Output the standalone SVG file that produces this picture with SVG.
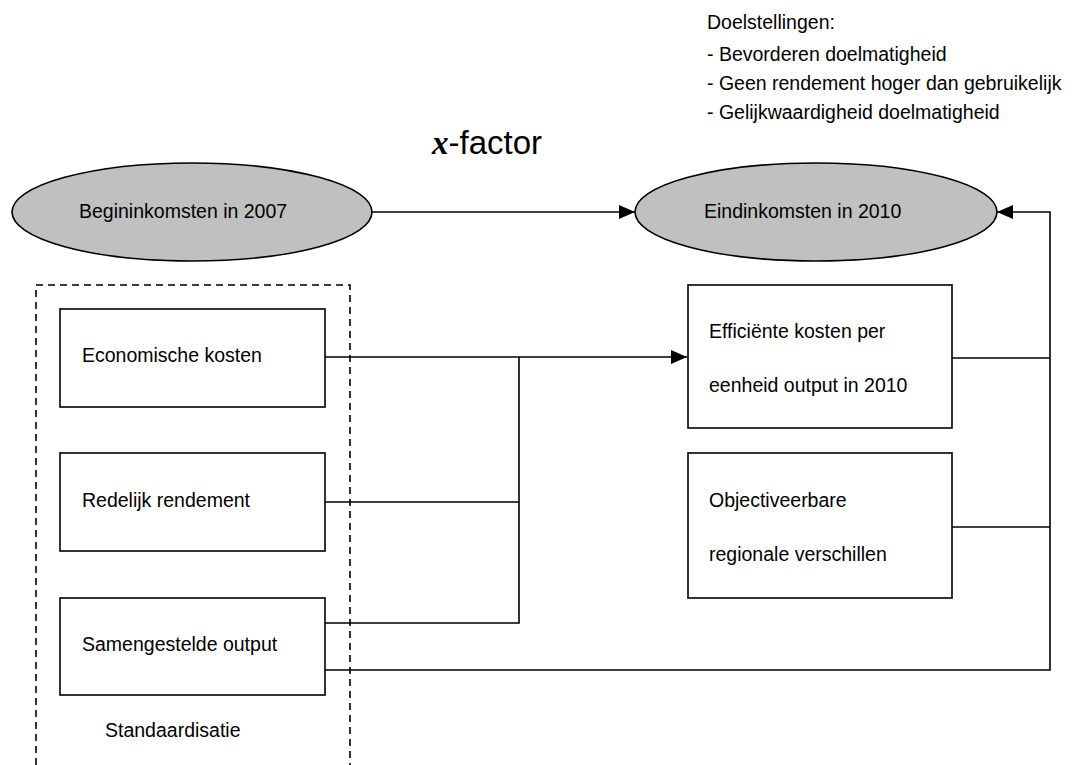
<svg xmlns="http://www.w3.org/2000/svg" width="1079" height="765" viewBox="0 0 1079 765">
<defs>
<style>
text{font-family:"Liberation Sans",Arial,sans-serif;font-size:19.5px;fill:#000}
.node{fill:#fff;stroke:#000;stroke-width:1.6}
.ell{fill:#c0c0c0;stroke:#000;stroke-width:1.6}
.conn{fill:none;stroke:#000;stroke-width:1.6}
.dash{fill:none;stroke:#000;stroke-width:1.6;stroke-dasharray:7 5}
</style>
<marker id="arr" viewBox="0 0 16 14" refX="16" refY="7" markerWidth="16" markerHeight="14" markerUnits="userSpaceOnUse" orient="auto">
<path d="M0,0 L16,7 L0,14 z" fill="#000"/>
</marker>
</defs>
<rect width="1079" height="765" fill="#fff"/>

<g id="doelstellingen">
<text x="707" y="29">Doelstellingen:</text>
<text x="707" y="61">- Bevorderen doelmatigheid</text>
<text x="707" y="90">- Geen rendement hoger dan gebruikelijk</text>
<text x="707" y="119">- Gelijkwaardigheid doelmatigheid</text>
</g>

<g id="xfactor">
<text x="432" y="154" style="font-size:33px"><tspan style="font-family:'Liberation Serif',serif;font-style:italic;font-weight:bold">x</tspan>-factor</text>
</g>

<g id="standaardisatie">
<path class="dash" d="M36,765 V285 H350 V765"/>
<text x="105" y="737">Standaardisatie</text>
</g>

<g id="connectors">
<line class="conn" x1="372" y1="212" x2="635" y2="212" marker-end="url(#arr)"/>
<path class="conn" d="M325,357 H687" marker-end="url(#arr)"/>
<path class="conn" d="M519,357 V623 H325"/>
<path class="conn" d="M325,502 H519"/>
<path class="conn" d="M325,670 H1050 V212 H997" marker-end="url(#arr)"/>
<path class="conn" d="M952,358 H1050"/>
<path class="conn" d="M952,527 H1050"/>
</g>

<g id="begin">
<ellipse class="ell" cx="192" cy="212" rx="180" ry="49"/>
<text x="79" y="218">Begininkomsten in 2007</text>
</g>

<g id="eind">
<ellipse class="ell" cx="816" cy="212" rx="181" ry="49"/>
<text x="704" y="218">Eindinkomsten in 2010</text>
</g>

<g id="economische">
<rect class="node" x="60" y="309" width="265" height="98"/>
<text x="82" y="362">Economische kosten</text>
</g>

<g id="redelijk">
<rect class="node" x="60" y="453" width="265" height="98"/>
<text x="82" y="507">Redelijk rendement</text>
</g>

<g id="samengesteld">
<rect class="node" x="60" y="598" width="265" height="97"/>
<text x="82" y="651">Samengestelde output</text>
</g>

<g id="efficient">
<rect class="node" x="688" y="285" width="264" height="143"/>
<text x="709" y="338">Efficiënte kosten per</text>
<text x="709" y="392">eenheid output in 2010</text>
</g>

<g id="objectief">
<rect class="node" x="688" y="453" width="264" height="145"/>
<text x="709" y="507">Objectiveerbare</text>
<text x="709" y="561">regionale verschillen</text>
</g>
</svg>
